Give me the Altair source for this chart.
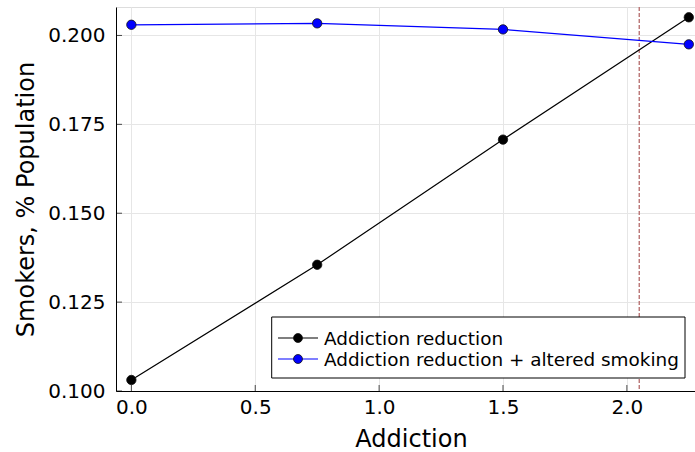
import altair as alt
import pandas as pd

# Scenario results
addiction = [0.0, 0.75, 1.5, 2.25]
reduction = [0.1031, 0.1355, 0.1707, 0.2051]
reduction_altered = [0.2030, 0.2034, 0.2017, 0.1975]
threshold = 2.05

series_names = ["Addiction reduction", "Addiction reduction + altered smoking"]
series_colors = ["#000000", "#0000ff"]

x_ticks = [0.0, 0.5, 1.0, 1.5, 2.0]
y_ticks = [0.100, 0.125, 0.150, 0.175, 0.200]

X_DOMAIN = [-0.062, 2.275]
Y_DOMAIN = [0.100, 0.208]
W, H = 579, 384
FONT = "DejaVu Sans"

df = pd.DataFrame({
    "x": addiction * 2,
    "y": reduction + reduction_altered,
    "series": [series_names[0]] * 4 + [series_names[1]] * 4,
})

xs = alt.Scale(domain=X_DOMAIN, nice=False, zero=False)
ys = alt.Scale(domain=Y_DOMAIN, nice=False, zero=False)
cs = alt.Scale(domain=series_names, range=series_colors)

x_axis = alt.Axis(values=x_ticks, format=".1f", title="Addiction", ticks=False,
                  labelFontSize=20, labelPadding=6, titleFontSize=24,
                  titleFontWeight="normal", titleX=295, titleY=55,
                  titleBaseline="alphabetic", gridColor="#e6e6e6",
                  domainColor="black", labelColor="black", titleColor="black")
y_axis = alt.Axis(values=y_ticks, format=".3f", title="Smokers, % Population", ticks=False,
                  labelFontSize=20, labelPadding=11, titleFontSize=24,
                  titleFontWeight="normal", titleX=-83, titleY=H / 2,
                  titleBaseline="alphabetic", gridColor="#e6e6e6",
                  domainColor="black", labelColor="black", titleColor="black")

base = alt.Chart(df).encode(
    x=alt.X("x:Q", scale=xs, axis=x_axis),
    y=alt.Y("y:Q", scale=ys, axis=y_axis),
    color=alt.Color("series:N", scale=cs, legend=None),
)

lines = base.mark_line(strokeWidth=1.2)
points = base.mark_point(filled=True, size=88, opacity=1, stroke="#111111", strokeWidth=0.8)

vline = alt.Chart(pd.DataFrame({"x": [threshold]})).mark_rule(
    color="#b97474", strokeDash=[4, 2], strokeWidth=1.4
).encode(x=alt.X("x:Q", scale=xs))

# inward tick marks
xt = alt.Chart(pd.DataFrame({"x": x_ticks})).mark_tick(
    orient="vertical", size=6, thickness=1, color="black", yOffset=-3
).encode(x=alt.X("x:Q", scale=xs), y=alt.value(H))
yt = alt.Chart(pd.DataFrame({"y": y_ticks})).mark_tick(
    orient="horizontal", size=6, thickness=1, color="black", xOffset=3
).encode(y=alt.Y("y:Q", scale=ys), x=alt.value(0))

# legend box
leg = pd.DataFrame({"label": series_names, "color": series_colors})
box = alt.Chart(leg.head(1)).mark_rect(fill="white", stroke="black", strokeWidth=1).encode(
    x=alt.value(155.7), x2=alt.value(569), y=alt.value(310), y2=alt.value(371)
)
legend_layers = [box]
for i, (name, col) in enumerate(zip(series_names, series_colors)):
    row = leg.iloc[[i]]
    yy = 331 + 21 * i
    legend_layers.append(
        alt.Chart(row).mark_rule(color=col, strokeWidth=1.2).encode(
            x=alt.value(162), x2=alt.value(202), y=alt.value(yy)
        )
    )
    legend_layers.append(
        alt.Chart(row).mark_point(filled=True, size=80, opacity=1, fill=col,
                                  stroke="#111111", strokeWidth=0.8).encode(
            x=alt.value(182), y=alt.value(yy)
        )
    )
    legend_layers.append(
        alt.Chart(row).mark_text(align="left", baseline="middle", fontSize=18.4,
                                 font=FONT, color="black", dy=1).encode(
            x=alt.value(208), y=alt.value(yy), text="label:N"
        )
    )

chart = alt.layer(vline, lines, points, xt, yt, *legend_layers).properties(
    width=W, height=H,
    autosize=alt.AutoSizeParams(type="none"),
    padding={"left": 116, "top": 7, "right": 0, "bottom": 61},
    background="white",
).configure_view(stroke=None).configure(font=FONT)

chart.save("out.html", embed_options={"renderer": "svg", "actions": False})
